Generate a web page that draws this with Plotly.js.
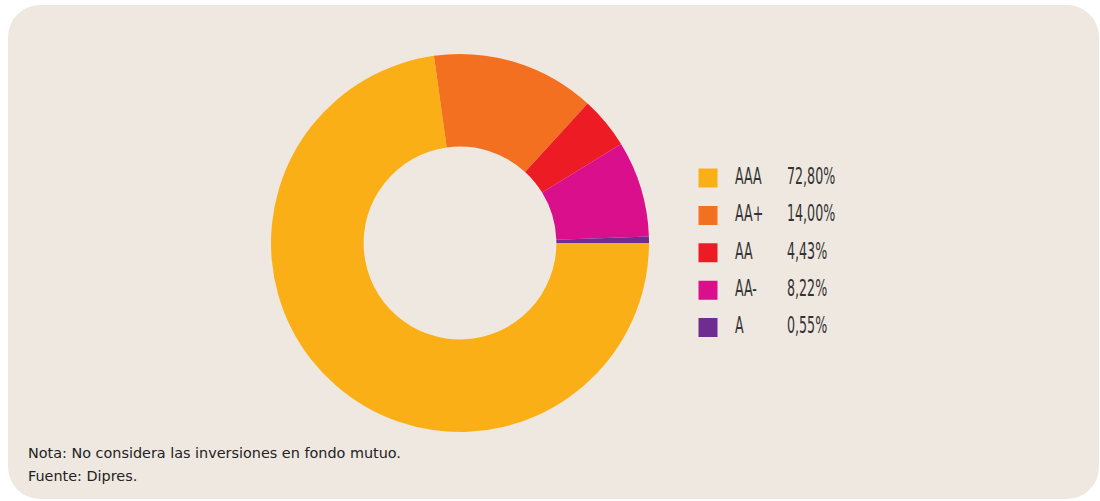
<!DOCTYPE html>
<html>
<head>
<meta charset="utf-8">
<script src="https://cdn.plot.ly/plotly-3.0.1.min.js"></script>
<style>
  body { margin: 0; background: #ffffff; }
  #panel {
    position: absolute; left: 8px; top: 5px; width: 1091px; height: 494px;
    background: #efe8e1; border-radius: 32px;
  }
  #chart { position: absolute; left: 0; top: 0; width: 1100px; height: 501px; }
</style>
</head>
<body>
<div id="panel"></div>
<div id="chart"></div>
<script>
// ratings and their share of the portfolio
const ratings = ['AAA', 'AA+', 'AA', 'AA-', 'A'];
const shares = [72.80, 14.00, 4.43, 8.22, 0.55];
const shareLabels = ['72,80%', '14,00%', '4,43%', '8,22%', '0,55%'];
const colors = ['#fbaf17', '#f37021', '#ed1c24', '#d90f8c', '#6f2c91'];

const notes = [
    'Nota: No considera las inversiones en fondo mutuo.',
    'Fuente: Dipres.'
];

const legendFont = { family: 'DejaVu Sans, sans-serif', size: 23, color: '#333333' };

const rows = ratings.map((r, i) => i);

const pie = {
    type: 'pie',
    labels: ratings,
    values: shares,
    sort: false,
    direction: 'clockwise',
    rotation: 90,
    hole: 0.51,
    textinfo: 'none',
    marker: { colors: colors, line: { width: 0 } },
    domain: { x: [271 / 1100, 649 / 1100], y: [1 - 432 / 501, 1 - 54 / 501] },
    showlegend: false,
    hoverinfo: 'label+percent'
};

// legend built as a small scatter on its own axes
const legendSquares = {
    type: 'scatter', mode: 'markers',
    x: rows.map(() => 18), y: rows,
    marker: { symbol: 'square', size: 19, color: colors },
    xaxis: 'x2', yaxis: 'y2', showlegend: false, hoverinfo: 'skip'
};

const legendNames = {
    type: 'scatter', mode: 'text',
    x: rows.map(() => 45), y: rows,
    text: ratings, textposition: 'middle right',
    textfont: legendFont,
    xaxis: 'x2', yaxis: 'y2', showlegend: false, hoverinfo: 'skip'
};

const legendShares = {
    type: 'scatter', mode: 'text',
    x: rows.map(() => 97), y: rows,
    text: shareLabels, textposition: 'middle right',
    textfont: legendFont,
    xaxis: 'x2', yaxis: 'y2', showlegend: false, hoverinfo: 'skip'
};

const noteAnnotations = notes.map((t, i) => ({
    text: t,
    xref: 'paper', yref: 'paper',
    x: 26 / 1100, y: 1 - (453 + i * 23) / 501,
    xanchor: 'left', yanchor: 'middle',
    showarrow: false,
    font: { family: 'DejaVu Sans, Verdana, sans-serif', size: 14.4, color: '#222222' }
}));

const layout = {
    width: 1100,
    height: 501,
    margin: { l: 0, r: 0, t: 0, b: 0 },
    paper_bgcolor: 'rgba(0,0,0,0)',
    plot_bgcolor: 'rgba(0,0,0,0)',
    xaxis2: {
        domain: [690 / 1100, 900 / 1100], range: [0, 210],
        visible: false, fixedrange: true, anchor: 'y2'
    },
    yaxis2: {
        domain: [1 - 346.3 / 501, 1 - 159.3 / 501], range: [4.5, -0.5],
        visible: false, fixedrange: true, anchor: 'x2'
    },
    annotations: noteAnnotations
};

// squeeze legend text horizontally, the original uses a condensed face
function condenseLegend() {
    document.querySelectorAll('#chart .textpoint text').forEach(el => {
        const x = parseFloat(el.getAttribute('x'));
        el.setAttribute('transform', 'translate(' + x + ',0) scale(0.55,1) translate(' + (-x) + ',0)');
    });
}

Plotly.newPlot('chart', [pie, legendSquares, legendNames, legendShares], layout, { displayModeBar: false })
    .then(condenseLegend);
</script>
</body>
</html>
